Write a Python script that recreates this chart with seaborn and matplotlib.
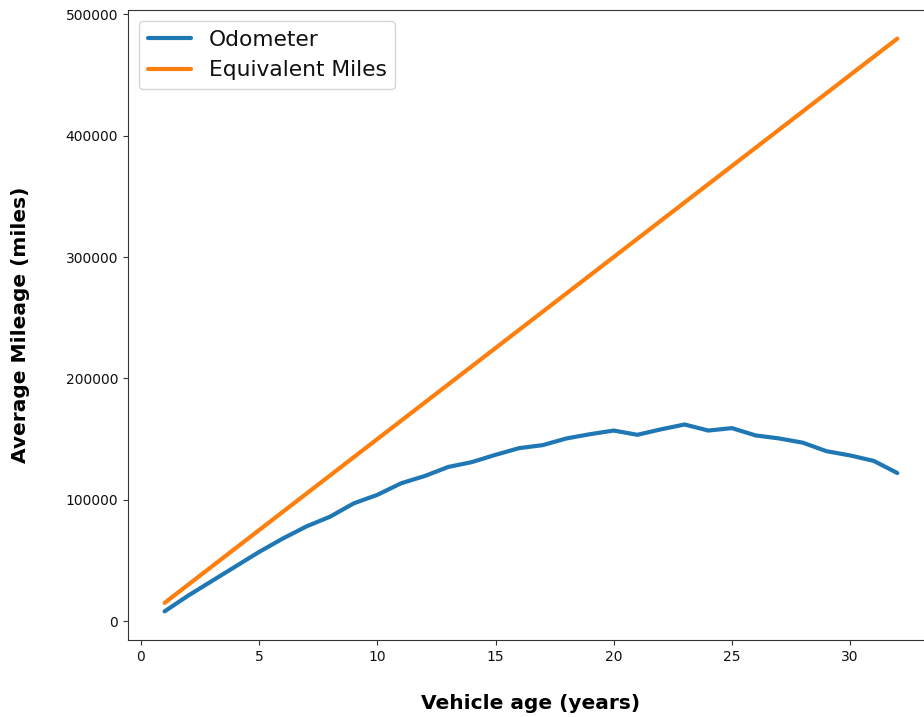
import matplotlib
matplotlib.use("Agg")
import matplotlib.pyplot as plt
import seaborn as sns
import pandas as pd

ages = list(range(1, 33))
odometer = [8000, 21000, 33000, 45000, 57000, 68000, 78000, 86000, 97000, 104000,
            113500, 119500, 127000, 131000, 137000, 142500, 145000, 150500, 154000, 157000,
            153500, 158000, 162000, 157000, 159000, 153000, 150500, 147000, 140000, 136500,
            132000, 122000]
equivalent = [15000, 30000, 45000, 60000, 75000, 90000, 105000, 120000, 135000, 150000,
              165000, 180000, 195000, 210000, 225000, 240000, 255000, 270000, 285000, 300000,
              315000, 330000, 345000, 360000, 375000, 390000, 405000, 420000, 435000, 450000,
              465000, 480000]
series_names = ["Odometer", "Equivalent Miles"]
colors = ["#1f77b4", "#ff7f0e"]

df = pd.DataFrame({
    "age": ages * 2,
    "miles": odometer + equivalent,
    "series": [series_names[0]] * len(ages) + [series_names[1]] * len(ages),
})

sns.set_style("ticks")
plt.rcParams['font.family'] = ['DejaVu Sans']

fig = plt.figure(figsize=(9.24, 7.17), dpi=100)
ax = fig.add_axes([0.1385, 0.1074, 0.8723, 0.8787])
sns.lineplot(data=df, x="age", y="miles", hue="series", palette=colors,
             linewidth=3, ax=ax)
ax.set_xticks([0, 5, 10, 15, 20, 25, 30])
ax.set_yticks([0, 100000, 200000, 300000, 400000, 500000])
ax.set_yticklabels(["0", "100000", "200000", "300000", "400000", "500000"])
ax.tick_params(labelsize=10, colors="#333333", labelcolor="#111111")
ax.set_xlabel("Vehicle age (years)", fontsize=14.5, fontweight="bold", labelpad=22,
              color="black")
ax.set_ylabel("Average Mileage (miles)", fontsize=14.5, fontweight="bold", labelpad=26,
              color="black")
for s in ax.spines.values():
    s.set_color("#333333")
leg = ax.legend(loc="upper left", fontsize=15.7, title=None)
for t in leg.get_texts():
    t.set_color("#111111")
fig.savefig("out.png", dpi=100)
